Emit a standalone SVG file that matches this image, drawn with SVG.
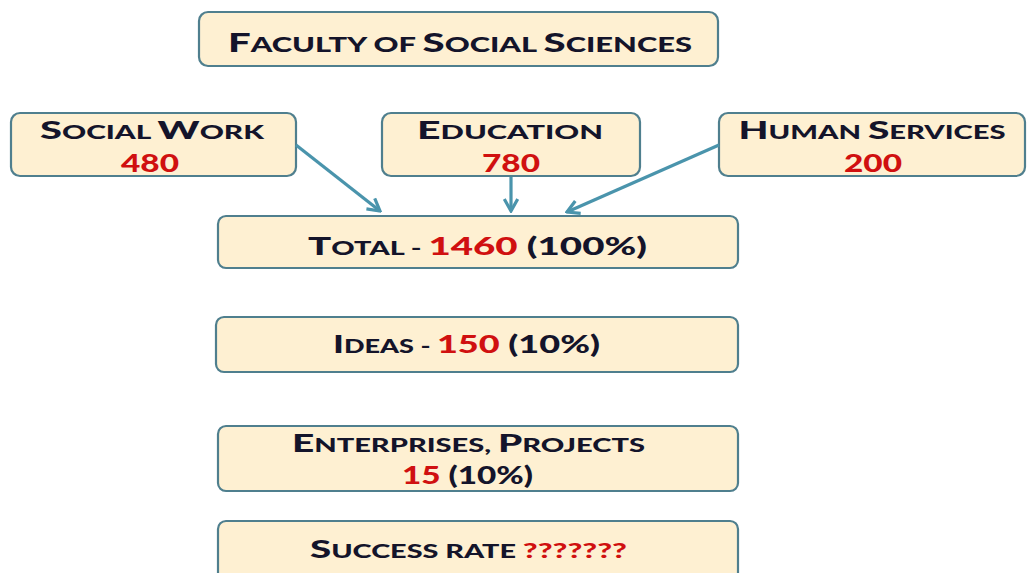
<svg xmlns="http://www.w3.org/2000/svg" width="1028" height="573" viewBox="0 0 1028 573">
<style>
.box{fill:#FEF0D2;stroke:#4F7F8E;stroke-width:2.2}
.t{font-family:Lato,"Open Sans","Liberation Sans",sans-serif;font-weight:900;fill:#14142a;font-size:24px}
.s{font-size:18px}
.r{fill:#D01010}
.c{fill:none;stroke:#4A94AC;stroke-width:3.2}
</style>
<defs>
<marker id="ah" viewBox="0 0 10 10" refX="9" refY="5" markerWidth="16" markerHeight="16" orient="auto" markerUnits="userSpaceOnUse">
<path d="M1.5,0.8 L9,5 L1.5,9.2" fill="none" stroke="#4A94AC" stroke-width="2" stroke-linejoin="miter"/>
</marker>
</defs>
<rect width="1028" height="573" fill="#fff"/>
<g id="faculty">
<rect class="box" x="199" y="12" width="519" height="54" rx="9"/>
<text class="t" x="460" y="52" text-anchor="middle" textLength="464" lengthAdjust="spacingAndGlyphs" style="font-size:26px">F<tspan class="s" style="font-size:20px">ACULTY OF </tspan>S<tspan class="s" style="font-size:20px">OCIAL </tspan>S<tspan class="s" style="font-size:20px">CIENCES</tspan></text>
</g>
<g id="social-work">
<rect class="box" x="11" y="113" width="285" height="63" rx="9"/>
<text class="t" x="152" y="139" text-anchor="middle" textLength="224" lengthAdjust="spacingAndGlyphs">S<tspan class="s">OCIAL </tspan>W<tspan class="s">ORK</tspan></text>
<text class="t r" x="150" y="172" text-anchor="middle" textLength="58" lengthAdjust="spacingAndGlyphs">480</text>
</g>
<g id="education">
<rect class="box" x="382" y="113" width="258" height="63" rx="9"/>
<text class="t" x="510" y="139" text-anchor="middle" textLength="186" lengthAdjust="spacingAndGlyphs">E<tspan class="s">DUCATION</tspan></text>
<text class="t r" x="511" y="172" text-anchor="middle" textLength="58" lengthAdjust="spacingAndGlyphs">780</text>
</g>
<g id="human-services">
<rect class="box" x="719" y="113" width="306" height="63" rx="9"/>
<text class="t" x="872" y="139" text-anchor="middle" textLength="267" lengthAdjust="spacingAndGlyphs">H<tspan class="s">UMAN </tspan>S<tspan class="s">ERVICES</tspan></text>
<text class="t r" x="873" y="172" text-anchor="middle" textLength="58" lengthAdjust="spacingAndGlyphs">200</text>
</g>
<g id="total">
<rect class="box" x="218" y="216" width="520" height="52" rx="8"/>
<text class="t" x="308" y="255" textLength="339" lengthAdjust="spacingAndGlyphs">T<tspan class="s">OTAL - </tspan> <tspan class="r">1460</tspan>  (100%)</text>
</g>
<g id="ideas">
<rect class="box" x="216" y="317" width="522" height="55" rx="8"/>
<text class="t" x="333" y="353" textLength="267" lengthAdjust="spacingAndGlyphs">I<tspan class="s">DEAS - </tspan> <tspan class="r">150</tspan> (10%)</text>
</g>
<g id="enterprises">
<rect class="box" x="218" y="426" width="520" height="65" rx="8"/>
<text class="t" x="292" y="452" textLength="353" lengthAdjust="spacingAndGlyphs">E<tspan class="s">NTERPRISES, </tspan>P<tspan class="s">ROJECTS</tspan></text>
<text class="t" x="402" y="484" textLength="131" lengthAdjust="spacingAndGlyphs"><tspan class="r">15</tspan> (10%)</text>
</g>
<g id="success-rate">
<rect class="box" x="218" y="521" width="520" height="62" rx="8"/>
<text class="t" x="310" y="558" textLength="317" lengthAdjust="spacingAndGlyphs">S<tspan class="s">UCCESS RATE </tspan><tspan class="r" style="font-size:20px">???????</tspan></text>
</g>
<g id="connectors">
<line class="c" x1="296" y1="145" x2="380" y2="211" marker-end="url(#ah)"/>
<line class="c" x1="511" y1="177" x2="511" y2="211" marker-end="url(#ah)"/>
<line class="c" x1="719" y1="145" x2="567" y2="212" marker-end="url(#ah)"/>
</g>
</svg>
